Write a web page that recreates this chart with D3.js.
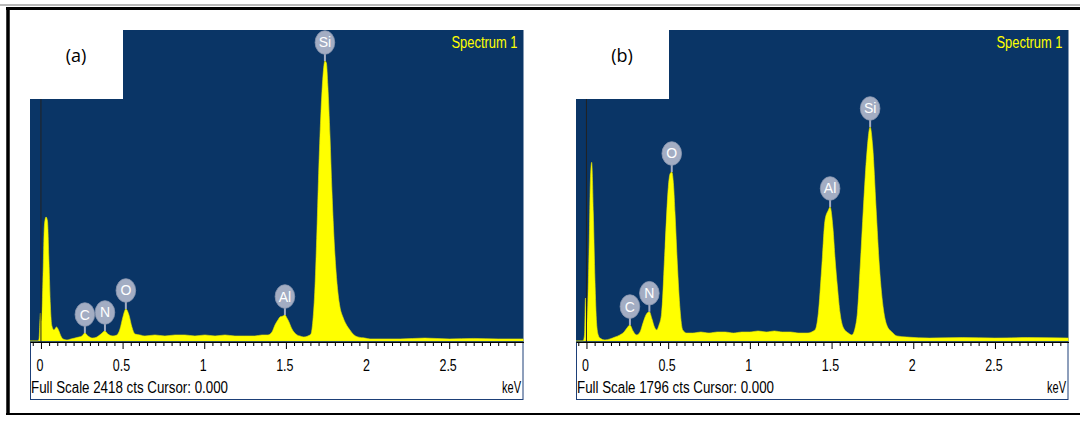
<!DOCTYPE html>
<html>
<head>
<meta charset="utf-8">
<script src="https://cdn.jsdelivr.net/npm/d3@7"></script>
<style>
  body { margin: 0; background: #fff; }
  svg { display: block; }
  .narrow { font-family: "Liberation Sans Narrow", "Arial Narrow", "Liberation Sans", Arial, sans-serif; }
</style>
</head>
<body>
<div id="chart"></div>
<script>
// spectrum (a) - energy in keV, counts
const energyA = [-0.067, -0.018, -0.012, -0.003, 0.003, 0.012, 0.021, 0.031, 0.040, 0.049, 0.058, 0.067,
  0.080, 0.095, 0.110, 0.122, 0.135, 0.159, 0.184, 0.208, 0.233, 0.251, 0.269, 0.288, 0.318, 0.343,
  0.367, 0.392, 0.410, 0.441, 0.465, 0.484, 0.502, 0.520, 0.539, 0.557, 0.576, 0.606, 0.637, 0.698,
  0.759, 0.821, 0.882, 0.943, 1.004, 1.066, 1.127, 1.188, 1.249, 1.310, 1.353, 1.390, 1.415, 1.433,
  1.451, 1.464, 1.482, 1.494, 1.506, 1.519, 1.534, 1.549, 1.568, 1.586, 1.610, 1.635, 1.653, 1.665,
  1.678, 1.690, 1.702, 1.715, 1.727, 1.739, 1.748, 1.757, 1.770, 1.782, 1.794, 1.807, 1.819, 1.831,
  1.849, 1.868, 1.892, 1.917, 1.941, 1.984, 2.015, 2.2, 2.35, 2.5, 2.65, 2.8, 2.955];
const countsA = [0, 0, 16, 218, 155, 466, 894, 964, 933, 622, 272, 117,
  86, 109, 78, 39, 16, 8, 16, 23, 31, 39, 62, 39, 23, 31,
  54, 78, 54, 39, 47, 93, 187, 249, 202, 109, 54, 47, 39, 47,
  39, 47, 47, 39, 47, 39, 47, 39, 39, 39, 47, 47, 70, 124,
  163, 187, 194, 202, 179, 148, 101, 70, 47, 39, 31, 39, 54, 156,
  420, 855, 1361, 1788, 2060, 2177, 2161, 1983, 1594, 1166, 816, 544, 373, 264,
  187, 132, 86, 47, 31, 23, 16, 16, 23, 16, 20, 16, 16];

// spectrum (b)
const energyB = [-0.064, -0.021, -0.012, -0.006, 0.003, 0.017, 0.024, 0.032, 0.042, 0.052, 0.062, 0.072,
  0.083, 0.113, 0.144, 0.175, 0.205, 0.230, 0.248, 0.266, 0.285, 0.307, 0.328, 0.346, 0.364, 0.385,
  0.401, 0.416, 0.430, 0.444, 0.460, 0.481, 0.501, 0.511, 0.522, 0.533, 0.542, 0.556, 0.573, 0.589,
  0.614, 0.65, 0.7, 0.75, 0.8, 0.85, 0.9, 0.95, 1.0, 1.05, 1.1, 1.15, 1.2, 1.25, 1.3, 1.35,
  1.399, 1.419, 1.440, 1.460, 1.481, 1.491, 1.508, 1.522, 1.536, 1.552, 1.573, 1.603, 1.624, 1.644,
  1.658, 1.675, 1.695, 1.716, 1.736, 1.752, 1.772, 1.793, 1.818, 1.838, 1.869, 1.900, 1.961,
  2.1, 2.3, 2.5, 2.7, 2.95];
const countsB = [0, 0, 35, 248, 110, 578, 924, 1032, 739, 352, 104, 35,
  17, 6, 12, 23, 35, 52, 75, 92, 58, 35, 52, 104, 150, 169,
  127, 81, 64, 92, 162, 543, 889, 964, 976, 900, 739, 450, 179, 64,
  46, 46, 52, 46, 52, 52, 46, 52, 52, 58, 52, 58, 52, 52, 46, 46,
  64, 160, 427, 699, 757, 774, 658, 468, 312, 162, 75, 46, 35, 75,
  162, 427, 774, 1086, 1236, 1120, 774, 427, 179, 92, 52, 29, 23,
  17, 20, 17, 20, 17];

const fullScaleA = 2418;
const fullScaleB = 1796;

const elements = ["C", "N", "O", "Al", "Si"];
const elementEnergyA = [0.269, 0.392, 0.520, 1.494, 1.739];
const elementEnergyB = [0.266, 0.385, 0.522, 1.491, 1.736];

const tickLabelValues = [0, 0.5, 1, 1.5, 2, 2.5];
const tickLabels = ["0", "0.5", "1", "1.5", "2", "2.5"];

const W = 1080, H = 421;
const TOP = 30, BASE = 341, AXIS_Y = 342, BOTTOM = 399.5;

const svg = d3.select("#chart").append("svg").attr("width", W).attr("height", H);

// outer frame
svg.append("line").attr("x1", 0).attr("x2", W).attr("y1", 5).attr("y2", 5)
  .attr("stroke", "#a0a0a0").attr("stroke-width", 1.5);
svg.append("line").attr("x1", 6).attr("x2", W).attr("y1", 8.5).attr("y2", 8.5)
  .attr("stroke", "#000").attr("stroke-width", 3);
svg.append("line").attr("x1", 8).attr("x2", 8).attr("y1", 7).attr("y2", 415)
  .attr("stroke", "#000").attr("stroke-width", 3.5);
svg.append("line").attr("x1", 6).attr("x2", W).attr("y1", 414).attr("y2", 414)
  .attr("stroke", "#000").attr("stroke-width", 2);

function drawPanel(p) {
  const g = svg.append("g");
  const x = d3.scaleLinear().domain(p.domain).range([p.left, p.right]);
  const y = d3.scaleLinear().domain([0, p.fullScale]).range([BASE, TOP]);
  const w = p.right - p.left;

  g.append("rect").attr("x", p.left).attr("y", TOP).attr("width", w).attr("height", AXIS_Y - TOP)
    .attr("fill", "#0a3566");
  g.append("rect").attr("x", p.left + 0.5).attr("y", AXIS_Y).attr("width", w - 1).attr("height", BOTTOM - AXIS_Y)
    .attr("fill", "#fff").attr("stroke", "#1d3f78").attr("stroke-width", 1);

  const clipId = "clip" + p.tag;
  g.append("clipPath").attr("id", clipId).append("rect")
    .attr("x", p.left).attr("y", TOP).attr("width", w).attr("height", BASE - TOP + 0.5);

  const data = p.energy.map((e, i) => [e, p.counts[i]]);
  const area = d3.area().x(d => x(d[0])).y0(y(0)).y1(d => y(d[1])).curve(d3.curveMonotoneX);
  g.append("path").datum(data).attr("clip-path", `url(#${clipId})`)
    .attr("d", area).attr("fill", "#ffff00").attr("stroke", "#e8e800").attr("stroke-width", 0.6);

  // cursor line at 0
  g.append("line").attr("x1", x(0)).attr("x2", x(0)).attr("y1", TOP).attr("y2", AXIS_Y)
    .attr("stroke", "#222").attr("stroke-width", 1);

  // axis
  const tickVals = d3.range(-1, 59).map(i => +(i * 0.05).toFixed(2));
  const axis = d3.axisBottom(x).tickValues(tickVals).tickSize(4).tickSizeOuter(0)
    .tickFormat(d => { const k = tickLabelValues.indexOf(d); return k >= 0 ? tickLabels[k] : ""; });
  const ax = g.append("g").attr("transform", `translate(0,${AXIS_Y})`).call(axis);
  ax.select(".domain").attr("stroke", "#000");
  ax.selectAll(".tick line").attr("stroke", "#000")
    .attr("y2", d => tickLabelValues.indexOf(d) >= 0 ? 7 : 4);
  ax.selectAll(".tick text").attr("class", "narrow").attr("y", 29).attr("dy", null)
    .attr("x", -2).attr("font-size", 16).attr("fill", "#000")
    .attr("transform", "scale(0.78,1)");

  g.append("text").attr("class", "narrow").attr("x", p.left + 1).attr("y", 393)
    .attr("font-size", 16).attr("textLength", 197).attr("lengthAdjust", "spacingAndGlyphs")
    .text(`Full Scale ${p.fullScale} cts Cursor: 0.000`);
  g.append("text").attr("class", "narrow").attr("x", p.right - 21.5).attr("y", 393)
    .attr("font-size", 16).attr("textLength", 19).attr("lengthAdjust", "spacingAndGlyphs")
    .text("keV");

  g.append("text").attr("class", "narrow").attr("x", p.right - 72).attr("y", 48)
    .attr("font-size", 16).attr("fill", "#ffff00")
    .attr("textLength", 66).attr("lengthAdjust", "spacingAndGlyphs")
    .text("Spectrum 1");

  // element labels
  p.elementEnergy.forEach((e, i) => {
    const near = data.filter(d => Math.abs(d[0] - e) < 0.012);
    const top = d3.max(near, d => d[1]);
    const cx = x(e), cy = y(top) - 18.5;
    const lg = g.append("g");
    lg.append("line").attr("x1", cx).attr("x2", cx).attr("y1", cy + 10).attr("y2", y(top))
      .attr("stroke", "#a3adc3").attr("stroke-width", 2);
    lg.append("ellipse").attr("cx", cx).attr("cy", cy).attr("rx", 9.8).attr("ry", 11.8)
      .attr("fill", "#a3adc3").attr("stroke", "#8d99b3").attr("stroke-width", 0.8);
    lg.append("text").attr("x", cx).attr("y", cy + 5).attr("text-anchor", "middle")
      .attr("font-family", "Liberation Sans, Arial, sans-serif").attr("font-size", 14)
      .attr("fill", "#fff").text(elements[i]);
  });

  // panel tag box
  g.append("rect").attr("x", p.left).attr("y", TOP).attr("width", 93).attr("height", 69).attr("fill", "#fff");
  g.append("text").attr("x", p.left + 46).attr("y", 62).attr("text-anchor", "middle")
    .attr("font-family", "Open Sans, Liberation Sans, sans-serif").attr("font-size", 18)
    .attr("fill", "#000").text(`(${p.tag})`);
}

drawPanel({ tag: "a", left: 30, right: 523.5, domain: [-0.067, 2.955],
  energy: energyA, counts: countsA, fullScale: fullScaleA, elementEnergy: elementEnergyA });
drawPanel({ tag: "b", left: 576, right: 1068.5, domain: [-0.064, 2.95],
  energy: energyB, counts: countsB, fullScale: fullScaleB, elementEnergy: elementEnergyB });
</script>
</body>
</html>
